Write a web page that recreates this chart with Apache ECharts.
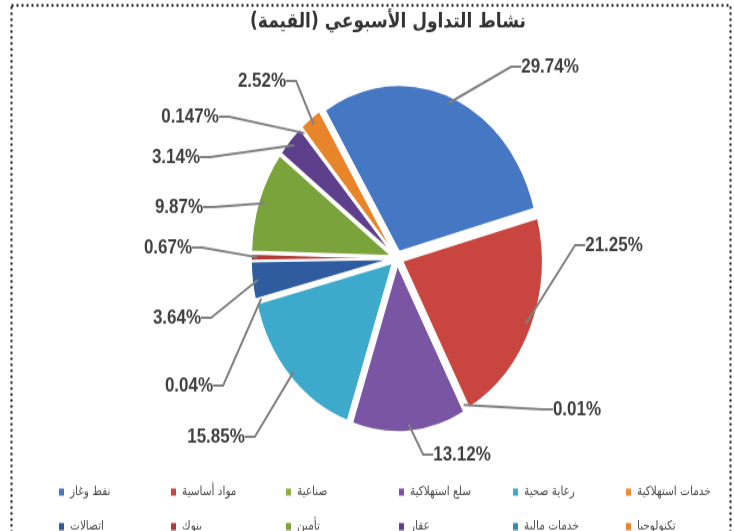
<!DOCTYPE html>
<html>
<head>
<meta charset="utf-8">
<script src="https://cdn.jsdelivr.net/npm/echarts@6/dist/echarts.min.js"></script>
<style>
html,body{margin:0;padding:0;background:#fff;overflow:hidden;}
#wrap{width:734px;height:531px;overflow:hidden;}
#chart{width:734px;height:446px;transform:scaleY(1.19);transform-origin:0 0;}
</style>
</head>
<body>
<div id="wrap"><div id="chart"></div></div>
<script>
// ---- data ----
const titleText = 'نشاط التداول الأسبوعي (القيمة)';
const categories = ['نفط وغاز', 'مواد أساسية', 'صناعية', 'سلع استهلاكية', 'رعاية صحية', 'خدمات استهلاكية',
                    'اتصالات', 'بنوك', 'تأمين', 'عقار', 'خدمات مالية', 'تكنولوجيا'];
const values = [29.74, 21.25, 0.01, 13.12, 15.85, 0.04, 3.64, 0.67, 9.87, 3.14, 0.147, 2.52];

// ---- styles / layout ----
const colors = ['#4677C2', '#C8463F', '#8DB04A', '#7A55A3', '#3DAACB', '#EE8A34',
                '#2F5C9E', '#B23A36', '#7AA33C', '#5E3F8C', '#2E8FB0', '#E8852B'];
// label text centres (chart space)
const labelPos = [[550, 56], [614, 206], [577, 344], [462, 382], [216, 367], [189, 324],
                  [177, 267], [168, 208], [179, 174], [176, 132], [190, 98], [262, 68]];
const legendCols = [52, 164, 279, 392, 506, 619];
const legendRows = [403, 432];

const chart = echarts.init(document.getElementById('chart'), null, {renderer: 'canvas'});
const center = [397, 217];
const startAngle = 122;
const legends = categories.map((c, i) => ({
  data: [c], left: legendCols[i % 6], top: legendRows[Math.floor(i / 6)],
  itemWidth: 7, itemHeight: 8, icon: 'rect', selectedMode: false,
  textStyle: {color: '#4a4a4a', fontSize: 10.5, fontFamily: 'DejaVu Sans'}
}));
chart.setOption({
  animation: false,
  title: {
    text: titleText, left: 383, top: 5, textAlign: 'center',
    textStyle: {fontSize: 17, fontWeight: 'bold', color: '#333333', fontFamily: 'DejaVu Sans'}
  },
  graphic: [{
    type: 'rect', left: 9, top: 2, silent: true,
    shape: {width: 719, height: 600},
    style: {fill: 'none', stroke: '#111', lineWidth: 2, lineDash: [2, 3]}
  }],
  legend: legends,
  series: [{
    // visible, exploded slices
    type: 'pie',
    center: center,
    radius: [0, 140],
    startAngle: startAngle,
    clockwise: true,
    selectedMode: 'multiple',
    selectedOffset: 6,
    itemStyle: {borderColor: '#fff', borderWidth: 1.5},
    label: {show: false},
    labelLine: {show: false},
    emphasis: {disabled: true},
    data: categories.map((c, i) => ({name: c, value: values[i], selected: true, itemStyle: {color: colors[i]}}))
  }, {
    // same slices, transparent, carrying the data labels
    type: 'pie',
    center: center,
    radius: [0, 140],
    startAngle: startAngle,
    clockwise: true,
    silent: true,
    z: 3,
    itemStyle: {color: 'rgba(0,0,0,0)', borderWidth: 0},
    label: {
      show: true,
      formatter: p => p.value + '%',
      fontSize: 17, fontWeight: 'bold', color: '#404040', fontFamily: 'Liberation Sans'
    },
    labelLine: {show: true, length: 20, length2: 10, lineStyle: {color: '#808080', width: 2}},
    labelLayout: p => ({
      x: labelPos[p.dataIndex][0], y: labelPos[p.dataIndex][1],
      align: 'center', verticalAlign: 'middle'
    }),
    emphasis: {disabled: true},
    data: categories.map((c, i) => ({name: c, value: values[i]}))
  }]
});
</script>
</body>
</html>
